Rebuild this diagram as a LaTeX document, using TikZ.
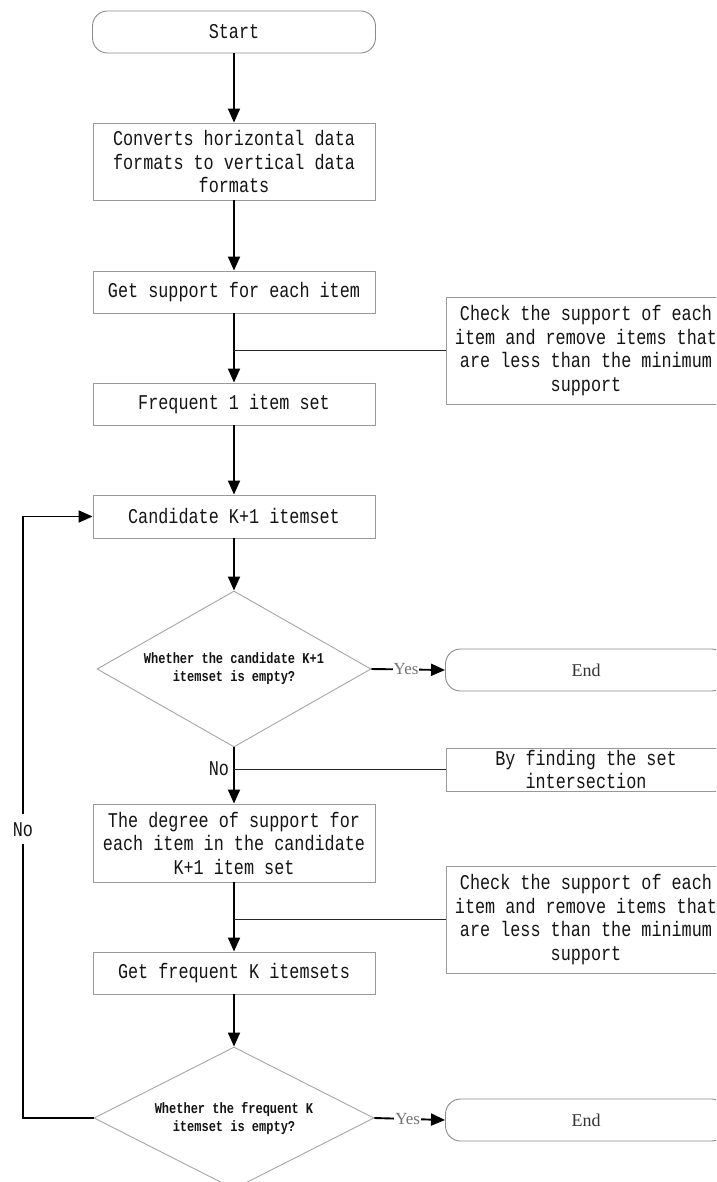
\documentclass[tikz,border=0pt]{standalone}
\usepackage{fontspec}
\setmainfont{Liberation Mono}[FakeStretch=0.8]
\newfontfamily\labelfont{Liberation Serif}
\usetikzlibrary{arrows.meta,shapes.geometric}
\begin{document}
\begin{tikzpicture}[x=1pt,y=-1pt,
  every node/.style={font=\fontsize{21}{23.5}\selectfont, text=black!92, inner sep=0pt},
  proc/.style={draw=black!40, line width=0.9pt, minimum width=282, minimum height=#1, align=center, fill=white},
  note/.style={draw=black!40, line width=0.9pt, minimum width=280, minimum height=#1, align=center, fill=white},
  term/.style={draw=black!45, line width=0.9pt, rounded corners=15pt, minimum width=#1, minimum height=42, align=center, fill=white},
  decision/.style={shape=diamond, draw=black!35, line width=0.9pt, aspect=1.75,
    minimum width=#1, align=center, fill=white, font=\fontsize{15}{18}\selectfont\bfseries},
  flow/.style={line width=1.9pt, draw=black, -{Triangle[width=12pt,length=14pt]}},
  tap/.style={line width=1.8pt, draw=black!85},
  yes/.style={fill=white, inner sep=1pt, text=black!55, font=\labelfont\fontsize{17}{17}\selectfont},
  endtext/.style={text=black!80, font=\labelfont\fontsize{18}{18}\selectfont}
]
\useasboundingbox (0,0) rectangle (716,1182);
\fill[white] (0,0) rectangle (716,1182);
\clip (0,0) rectangle (716,1182);

% main column
\node[term=283] (start) at (234,32) {Start};
\node[proc=77] (b1) at (234,161.5) {Converts horizontal data\\formats to vertical data\\formats};
\node[proc=42] (b2) at (234,292) {Get support for each item};
\node[proc=42] (b3) at (234,404) {Frequent 1 item set};
\node[proc=43] (b4) at (234,516.5) {Candidate K+1 itemset};
\node[decision=274, minimum height=156] (d1) at (234,669) {Whether the candidate K+1\\itemset is empty?};
\node[proc=78] (b5) at (234,843) {The degree of support for\\each item in the candidate\\K+1 item set};
\node[proc=42] (b6) at (234,973) {Get frequent K itemsets};
\node[decision=280, minimum height=142] (d2) at (234,1118) {Whether the frequent K\\itemset is empty?};

% right column
\node[note=107] (s1) at (586,350.5) {Check the support of each\\item and remove items that\\are less than the minimum\\support};
\node[term=281, endtext] (e1) at (586,670) {End};
\node[note=43] (s2) at (586,769.5) {By finding the set\\intersection};
\node[note=107] (s3) at (586,919.5) {Check the support of each\\item and remove items that\\are less than the minimum\\support};
\node[term=281, endtext] (e2) at (586,1120) {End};

% loop-back column
\coordinate (lx) at (23,0);

% connectors
\draw[flow] (start) -- (b1);
\draw[flow] (b1) -- (b2);
\draw[flow] (b2) -- (b3);
\draw[tap] (s1.west) -- (s1.west -| b2.south);
\draw[flow] (b3) -- (b4);
\draw[flow] (b4) -- (d1);
\draw[flow] (d1.east) -- node[yes, pos=0.47] {Yes} (e1.west);
\draw[flow] (d1.south) -- node[pos=0.38, left=4pt] {No} (b5.north);
\draw[tap] (s2.west) -- (s2.west -| d1.south);
\draw[flow] (b5) -- (b6);
\draw[tap] (s3.west) -- (s3.west -| b5.south);
\draw[flow] (b6) -- (d2);
\draw[flow] (d2.east) -- node[yes, pos=0.47] {Yes} (e2.west);
\draw[flow] (d2.west) -- (d2.west -| lx) |- node[pos=0.24, fill=white, inner ysep=8pt, inner xsep=2pt] {No} (b4.west);
\end{tikzpicture}
\end{document}
